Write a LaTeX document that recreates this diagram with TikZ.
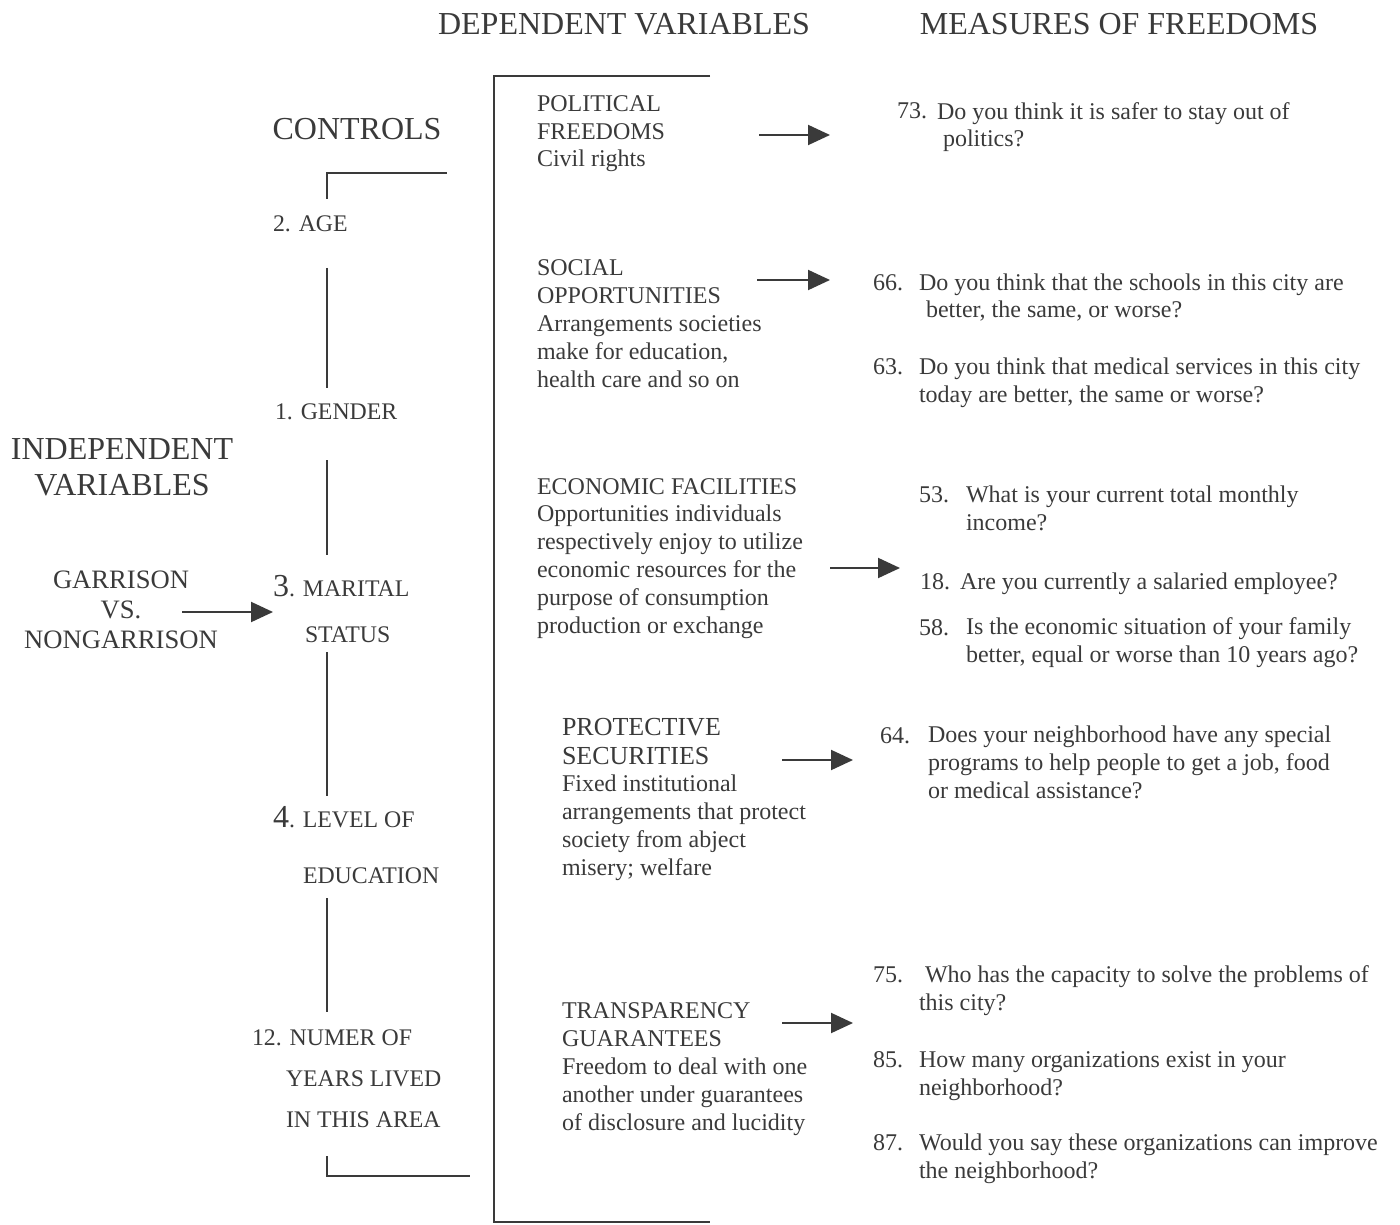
\documentclass[tikz,border=0pt]{standalone}
\usepackage{fontspec}
\setmainfont{Liberation Serif}
\usepackage{tikz}
\usetikzlibrary{arrows.meta,positioning}
\definecolor{ink}{HTML}{3A3A3A}

\begin{document}
\begin{tikzpicture}[x=0.5pt,y=-0.5pt,>={Triangle[length=11pt,width=10pt]},
  every node/.style={inner sep=0pt,outer sep=0pt,text=ink,font=\fontsize{12}{13.9}\selectfont}]
  \tikzset{txt/.style={anchor=base west,align=left},
           hdr/.style={anchor=base,font=\fontsize{16}{18}\selectfont},
           ctl/.style={anchor=base west,font=\fontsize{11.9}{13.9}\selectfont},
           num/.style={anchor=base west},
           ln/.style={draw=ink,line width=1pt},
           arr/.style={draw=ink,line width=1pt,->}}
  \useasboundingbox (0,0) rectangle (1400,1224);
  % headings (multi-line nodes sit on the base of their last line)
  \node[hdr] (dvh) at (624,35) {DEPENDENT VARIABLES};
  \node[hdr] (mfh) at (1119,35) {MEASURES OF FREEDOMS};
  \node[hdr] (ctlh) at (357,140) {CONTROLS};
  \node[hdr,align=center] (ivh) at (122,495) {INDEPENDENT\\VARIABLES};
  % independent variable
  \node[anchor=base,align=center,font=\fontsize{13.3}{15}\selectfont] (gar) at (121,648) {GARRISON\\VS.\\NONGARRISON};
  % controls
  \node[ctl] (age) at (273,232) {2. AGE};
  \node[ctl] (gen) at (275,420) {1. GENDER};
  \node[ctl] (mar) at (273,596) {{\fontsize{16}{18}\selectfont 3}. MARITAL};
  \node[ctl] (sta) at (305,642) {STATUS};
  \node[ctl] (lev) at (273,827) {{\fontsize{16}{18}\selectfont 4}. LEVEL OF};
  \node[ctl] (edu) at (303,883) {EDUCATION};
  \node[ctl] (nyr) at (252,1045) {12. NUMER OF};
  \node[ctl] (yrs) at (286,1086) {YEARS LIVED};
  \node[ctl] (are) at (286,1127) {IN THIS AREA};
  \coordinate (gs) at (182,612);
  \draw[arr] (gs) -- (mar.west |- gs);
  \draw[ln] (327,199) |- (447,173);
  \draw[ln] (327,268) -- (327,388);
  \draw[ln] (327,460) -- (327,555);
  \draw[ln] (327,652) -- (327,796);
  \draw[ln] (327,898) -- (327,1012);
  \draw[ln] (327,1156) |- (470,1176);
  \draw[ln] (710,76) -| (494,1222) -- (710,1222);
  % dependent variables
  \node[txt] (pol) at (537,167) {POLITICAL\\FREEDOMS\\Civil rights};
  \node[txt] (soc) at (537,387) {SOCIAL\\OPPORTUNITIES\\Arrangements societies\\make for education,\\health care and so on};
  \node[txt] (eco) at (537,633) {ECONOMIC FACILITIES\\Opportunities individuals\\respectively enjoy to utilize\\economic resources for the\\purpose of consumption\\production or exchange};
  \node[txt,font=\fontsize{13}{14.5}\selectfont] (pro) at (562,764) {PROTECTIVE\\SECURITIES};
  \node[txt] (prod) at (562,875) {Fixed institutional\\arrangements that protect\\society from abject\\misery; welfare};
  \node[txt] (tra) at (562,1130) {TRANSPARENCY\\GUARANTEES\\Freedom to deal with one\\another under guarantees\\of disclosure and lucidity};
  % measures
  \node[num] (n73) at (897,119) {73.};
  \node[txt] (q73) at (937,147) {Do you think it is safer to stay out of\\\hspace{3pt}politics?};
  \node[num] (n66) at (873,291) {66.};
  \node[txt] (q66) at (919,318) {Do you think that the schools in this city are\\\hspace{3.5pt}better, the same, or worse?};
  \node[num] (n63) at (873,375) {63.};
  \node[txt] (q63) at (919,402) {Do you think that medical services in this city\\today are better, the same or worse?};
  \node[num] (n53) at (919,502) {53.};
  \node[txt] (q53) at (966,530) {What is your current total monthly\\income?};
  \node[num] (n18) at (920,589) {18.};
  \node[txt] (q18) at (960,589) {Are you currently a salaried employee?};
  \node[num] (n58) at (919,635) {58.};
  \node[txt] (q58) at (966,662) {Is the economic situation of your family\\better, equal or worse than 10 years ago?};
  \node[num] (n64) at (880,743) {64.};
  \node[txt] (q64) at (928,798) {Does your neighborhood have any special\\programs to help people to get a job, food\\or medical assistance?};
  \node[num] (n75) at (873,982) {75.};
  \node[txt] (q75) at (919,1010) {\hspace{3pt}Who has the capacity to solve the problems of\\this city?};
  \node[num] (n85) at (873,1067) {85.};
  \node[txt] (q85) at (919,1095) {How many organizations exist in your\\neighborhood?};
  \node[num] (n87) at (873,1150) {87.};
  \node[txt] (q87) at (919,1178) {Would you say these organizations can improve\\the neighborhood?};
  % arrows
  \coordinate (pol-o) at (759,135);  \coordinate (q73-i) at (830,135);
  \coordinate (soc-o) at (757,280);  \coordinate (q66-i) at (830,280);
  \coordinate (eco-o) at (830,568);  \coordinate (q18-i) at (900,568);
  \coordinate (pro-o) at (782,760);  \coordinate (q64-i) at (853,760);
  \coordinate (tra-o) at (782,1023); \coordinate (q75-i) at (853,1023);
  \draw[arr] (pol-o) -- (q73-i);
  \draw[arr] (soc-o) -- (q66-i);
  \draw[arr] (eco-o) -- (q18-i);
  \draw[arr] (pro-o) -- (q64-i);
  \draw[arr] (tra-o) -- (q75-i);
\end{tikzpicture}
\end{document}
